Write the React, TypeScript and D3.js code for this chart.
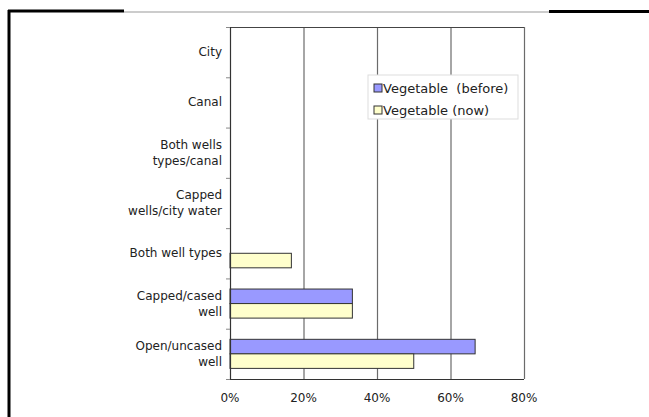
import { useEffect, useRef } from 'react';
import * as d3 from 'd3';

const categories = ['City', 'Canal', 'Both wells types/canal', 'Capped wells/city water', 'Both well types', 'Capped/cased well', 'Open/uncased well'];
const categoryLines = [['City'], ['Canal'], ['Both wells', 'types/canal'], ['Capped', 'wells/city water'], ['Both well types'], ['Capped/cased', 'well'], ['Open/uncased', 'well']];
const beforeValues = [0, 0, 0, 0, 0, 33.3, 66.7];
const nowValues = [0, 0, 0, 0, 16.7, 33.3, 50];
const seriesNames = ['Vegetable  (before)', 'Vegetable (now)'];
const seriesColors = ['#9999ff', '#ffffcc'];
const xTicks = [0, 20, 40, 60, 80];

const W = 649;
const H = 417;

const App = () => {
  const svgRef = useRef<SVGSVGElement | null>(null);

  useEffect(() => {
    if (!svgRef.current) return;
    const svg = d3.select(svgRef.current);
    svg.selectAll('*').remove();

    const font = 'DejaVu Sans, Verdana, sans-serif';
    const left = 230, right = 524, top = 27, bottom = 379;

    svg.append('rect').attr('width', W).attr('height', H).attr('fill', '#fff');

    // outer frame
    svg.append('line').attr('x1', 9).attr('x2', 9).attr('y1', 10).attr('y2', H).attr('stroke', '#000').attr('stroke-width', 3);
    svg.append('line').attr('x1', 8).attr('x2', 124).attr('y1', 11).attr('y2', 11).attr('stroke', '#000').attr('stroke-width', 3);
    svg.append('line').attr('x1', 549).attr('x2', W).attr('y1', 11.5).attr('y2', 11.5).attr('stroke', '#000').attr('stroke-width', 3);
    svg.append('line').attr('x1', 124).attr('x2', 549).attr('y1', 12).attr('y2', 12).attr('stroke', '#999').attr('stroke-width', 1);

    const x = d3.scaleLinear().domain([0, 80]).range([left, right]);
    const y = d3.scaleBand<string>().domain(categories).range([top, bottom]);
    const sub = d3.scaleBand<number>().domain([0, 1]).range([0, y.bandwidth()]).paddingInner(0).paddingOuter(0.73);

    // gridlines
    svg.append('g').selectAll('line').data(xTicks.slice(1)).enter().append('line')
      .attr('x1', d => x(d) + 0.5).attr('x2', d => x(d) + 0.5)
      .attr('y1', top).attr('y2', bottom)
      .attr('stroke', '#6b6b6b').attr('stroke-width', 1.2);

    svg.append('line').attr('x1', left).attr('x2', right).attr('y1', top + 0.5).attr('y2', top + 0.5).attr('stroke', '#444').attr('stroke-width', 1.2);

    // bars
    const series = [beforeValues, nowValues];
    series.forEach((vals, si) => {
      svg.append('g').selectAll('rect').data(vals.map((v, i) => ({ v, c: categories[i] })).filter(d => d.v > 0)).enter().append('rect')
        .attr('x', left)
        .attr('y', d => (y(d.c) ?? 0) + (sub(si) ?? 0))
        .attr('width', d => x(d.v) - left)
        .attr('height', sub.bandwidth())
        .attr('fill', seriesColors[si])
        .attr('stroke', '#333').attr('stroke-width', 1);
    });

    // axes
    svg.append('line').attr('x1', left + 0.5).attr('x2', left + 0.5).attr('y1', top).attr('y2', bottom).attr('stroke', '#333').attr('stroke-width', 1.2);
    svg.append('line').attr('x1', left).attr('x2', right).attr('y1', bottom + 0.5).attr('y2', bottom + 0.5).attr('stroke', '#333').attr('stroke-width', 1.2);

    const bounds = categories.map(c => y(c) ?? 0).concat([bottom]);
    svg.append('g').selectAll('line').data(bounds).enter().append('line')
      .attr('x1', left - 4).attr('x2', left).attr('y1', d => d + 0.5).attr('y2', d => d + 0.5)
      .attr('stroke', '#888').attr('stroke-width', 1);

    // category labels
    categoryLines.forEach((lines, i) => {
      const cy = (y(categories[i]) ?? 0) + y.bandwidth() / 2;
      const lh = 16;
      const t = svg.append('text')
        .attr('x', left - 8)
        .attr('text-anchor', 'end')
        .attr('font-family', font).attr('font-size', 12).attr('fill', '#222');
      lines.forEach((ln, j) => {
        t.append('tspan').attr('x', left - 8)
          .attr('y', cy + (j - (lines.length - 1) / 2) * lh + 4)
          .text(ln);
      });
    });

    // x tick labels
    svg.append('g').selectAll('text').data(xTicks).enter().append('text')
      .attr('x', d => x(d)).attr('y', 402)
      .attr('text-anchor', 'middle')
      .attr('font-family', font).attr('font-size', 12).attr('fill', '#222')
      .text(d => `${d}%`);

    // legend
    const lg = svg.append('g').attr('transform', 'translate(368,75)');
    lg.append('rect').attr('width', 150).attr('height', 44).attr('fill', '#fff').attr('stroke', '#ddd');
    seriesNames.forEach((name, i) => {
      const row = lg.append('g').attr('transform', `translate(6, ${13 + i * 22})`);
      row.append('rect').attr('x', 0).attr('y', -4).attr('width', 8).attr('height', 8)
        .attr('fill', seriesColors[i]).attr('stroke', '#333').attr('stroke-width', 1);
      row.append('text').attr('x', 9).attr('y', 5)
        .attr('font-family', font).attr('font-size', 13).attr('fill', '#222')
        .attr('xml:space', 'preserve').style('white-space', 'pre')
        .text(name);
    });
  }, []);

  return <svg ref={svgRef} width={W} height={H} style={{ position: 'absolute', left: 0, top: 0 }} />;
};

export default App;
